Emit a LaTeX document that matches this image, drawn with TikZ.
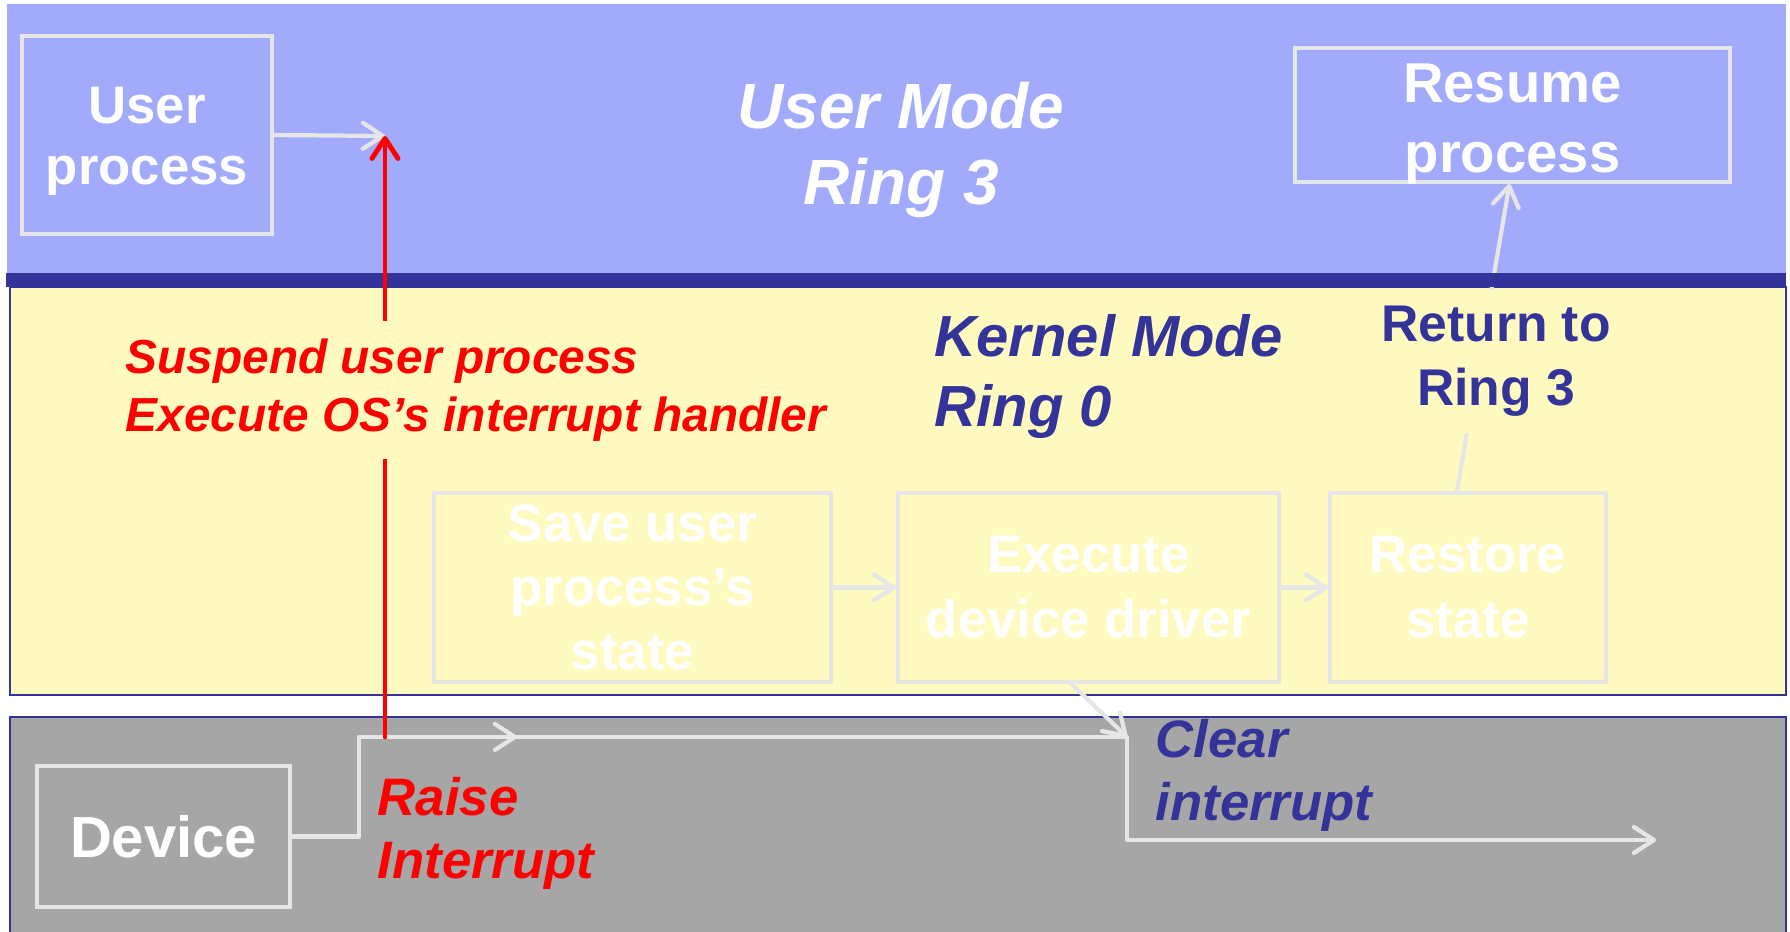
\documentclass[tikz,border=0pt]{standalone}
\usepackage{fontspec}
\setmainfont{Liberation Sans}
\usepackage{xcolor}
\usetikzlibrary{arrows.meta, positioning}

\definecolor{userblue}{HTML}{A2AAFB}
\definecolor{ringnavy}{HTML}{333399}
\definecolor{kernelyellow}{HTML}{FFFAC0}
\definecolor{devgray}{HTML}{A6A6A6}
\definecolor{linegray}{HTML}{E6E6E6}
\definecolor{irqred}{HTML}{FF0000}

\begin{document}
\begin{tikzpicture}[x=0.1mm, y=-0.1mm,
    >={Straight Barb[length=2mm, width=2.6mm, round]},
    box/.style={draw=linegray, line width=1.1pt, text=white, align=center, inner sep=0pt},
    conn/.style={draw=linegray, line width=1.2pt, line cap=round, line join=round},
    redarrow/.style={draw=irqred, line width=1.4pt, line cap=round},
    modetext/.style={align=left, anchor=west, inner sep=0pt}]

    \useasboundingbox (0,0) rectangle (1790,932);
    \fill[white] (0,0) rectangle (1790,932);

    % Fasce
    \fill[userblue] (7,4) rectangle (1786,274);
    \filldraw[fill=kernelyellow, draw=ringnavy, line width=0.4pt] (10,287) rectangle (1786,695);
    \fill[devgray] (10,717) rectangle (1786,932);
    \draw[ringnavy, line width=0.4pt] (10,932) -- (10,717) -- (1786,717) -- (1786,932);

    % Riquadri
    \node[box, minimum width=25mm, minimum height=19.8mm, font=\bfseries\fontsize{15}{17.6}\selectfont] (user) at (147,135) {\rule{0pt}{4.9mm}User\\process};
    \node[box, minimum width=43.5mm, minimum height=13.4mm, font=\bfseries\fontsize{16}{19.9}\selectfont] (resume) at (1512.5,115) {\rule{0pt}{4.5mm}Resume\\\smash{process}};
    \node[box, minimum width=39.7mm, minimum height=18.9mm, font=\bfseries\fontsize{15}{18.2}\selectfont] (save) at (632.5,587.5) {Save user\\process’s\\state};
    \node[box, minimum width=38.1mm, minimum height=18.9mm, font=\bfseries\fontsize{15}{18.5}\selectfont] (exec) at (1088.5,587.5) {Execute\\device driver};
    \node[box, minimum width=27.6mm, minimum height=18.9mm, font=\bfseries\fontsize{15}{18.5}\selectfont] (restore) at (1468,587.5) {Restore\\state};
    \node[box, minimum width=25.3mm, minimum height=14.1mm, font=\bfseries\fontsize{16.5}{19.8}\selectfont] (dev) at (163.5,836.5) {Device};

    \coordinate (trap) at (385,136);
    \coordinate (raise) at (385,737);
    \coordinate (mark) at (517,737);
    \coordinate (clr) at (1127,737);
    \coordinate (done) at (1656,840);

    % Frecce
    \draw[conn, ->] (user.east) -- (trap);
    \draw[conn, ->] (save.east) -- (exec.west);
    \draw[conn, ->] (exec.east) -- (restore.west);
    \draw[conn, ->] ([xshift=-1.1mm]restore.north) -- ([xshift=-0.3mm]resume.south);
    \draw[conn, ->] ([xshift=-1.7mm]exec.south) -- (clr);
    \draw[conn, ->] (dev.east) -- ++(67,0) |- (mark);
    \draw[conn, ->] (mark) -- (clr) |- (done);

    \node[font=\bfseries\fontsize{14.7}{18.2}\selectfont, text=ringnavy, fill=kernelyellow, align=center, inner xsep=1mm, inner ysep=1.6mm] (ret) at (1496,361.5) {Return to\\Ring 3};

    \fill[ringnavy] (6,273) rectangle (1786,287);

    \draw[redarrow, ->] (raise) -- (trap);

    % Testi
    \node[modetext, text=irqred, fill=kernelyellow, inner xsep=0.5mm, inner ysep=1.8mm, font=\bfseries\itshape\fontsize{13.6}{16.5}\selectfont] (suspend) at (120,390) {Suspend user process\\Execute OS’s interrupt handler};
    \node[align=center, inner sep=0pt, text=white, font=\bfseries\itshape\fontsize{18.2}{21.6}\selectfont] (umode) at (901,150) {User Mode\\Ring 3};
    \node[modetext, text=ringnavy, font=\bfseries\itshape\fontsize{16.5}{19.9}\selectfont] (kmode) at (934,376.5) {Kernel Mode\\Ring 0};
    \node[modetext, text=irqred, font=\bfseries\itshape\fontsize{15}{17.9}\selectfont] (raiselbl) at (377,833) {Raise\\Interrupt};
    \node[modetext, text=ringnavy, font=\bfseries\itshape\fontsize{15}{17.9}\selectfont] (clrlbl) at (1155,775) {Clear\\interrupt};
\end{tikzpicture}
\end{document}
